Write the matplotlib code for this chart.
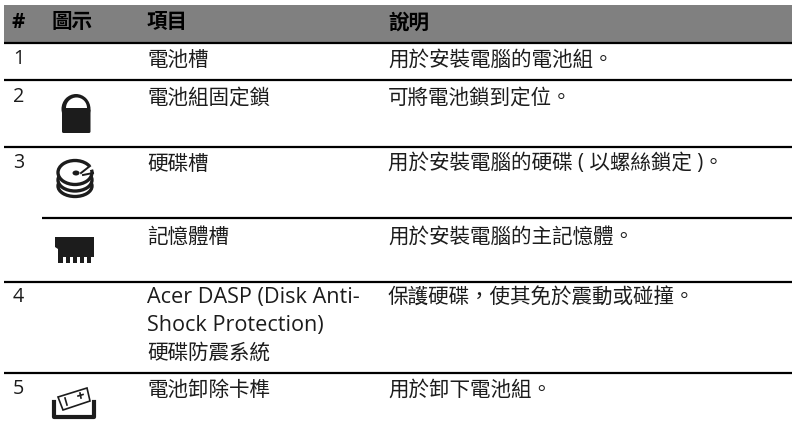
import matplotlib
matplotlib.use("Agg")
import matplotlib.pyplot as plt
from matplotlib.patches import Ellipse, Polygon, Rectangle, Wedge, FancyBboxPatch

header = ["#", "圖示", "項目", "說明"]
row_numbers = ["1", "2", "3", "", "4", "5"]
items = ["電池槽", "電池組固定鎖", "硬碟槽", "記憶體槽",
         "Acer DASP (Disk Anti-\nShock Protection)\n硬碟防震系統", "電池卸除卡榫"]
descriptions = ["用於安裝電腦的電池組。", "可將電池鎖到定位。", "用於安裝電腦的硬碟 ( 以螺絲鎖定 )。",
                "用於安裝電腦的主記憶體。", "保護硬碟\uff0c使其免於震動或碰撞。", "用於卸下電池組。"]

FONT = ["Open Sans", "Noto Sans CJK TC"]
INK = "#1c1c1c"
ROW_TEXT_Y = [60, 98, 164, 237, 298, 390]
NUM_X, ICON_X, ITEM_X, DESC_X = 12, 52, 147, 388

fig = plt.figure(figsize=(7.92, 4.34), dpi=100)
ax = fig.add_axes([0, 0, 1, 1])
ax.set_xlim(0, 792)
ax.set_ylim(434, 0)
ax.axis("off")

# header band and rules
ax.add_patch(Rectangle((4, 5), 788, 37, fc="#808080", ec="none"))
for y, x0 in [(43, 4), (80, 4), (147, 4), (218, 42), (282, 4), (373, 4)]:
    ax.plot([x0, 792], [y, y], color="black", lw=1.6, solid_capstyle="butt")

for x, label in zip([NUM_X, ICON_X, ITEM_X, DESC_X], header):
    ax.text(x, 23, label, family=FONT, fontsize=14.8, weight="bold", color="black",
            va="center", ha="left")

for i in range(len(items)):
    y = ROW_TEXT_Y[i]
    ax.text(13, y - 1, row_numbers[i], family=FONT, fontsize=14.2, color=INK, va="center")
    for j, line in enumerate(items[i].split("\n")):
        latin = line.isascii()
        ax.text(ITEM_X, y + j * 27.5, line, family=FONT, fontsize=15.6 if latin else 14.8,
                color=INK, va="center")
    ax.text(DESC_X, y, descriptions[i], family=FONT, fontsize=14.8, color=INK, va="center")

# lock icon
ax.add_patch(Ellipse((76, 109), 29, 30, fc=INK, ec="none"))
ax.add_patch(FancyBboxPatch((62, 109), 28.5, 24, boxstyle="round,pad=0,rounding_size=1.5", fc=INK, ec="none"))
ax.add_patch(Wedge((76.5, 108), 10.5, 180, 360, fc="white", ec="none"))

# hard disk icon
for cy, h in [(186, 21), (180, 22)]:
    ax.add_patch(Ellipse((75, cy), 34, h, fc="white", ec=INK, lw=2.4))
ax.add_patch(Ellipse((75, 172.5), 34, 24, fc="white", ec=INK, lw=2.4))
ax.add_patch(Ellipse((76, 173), 7, 5, fc=INK, ec="none"))
ax.add_patch(Polygon([(80, 173), (92, 164), (94, 169)], fc="white", ec="none"))
ax.plot([81, 90], [173, 166], color=INK, lw=1.4)
ax.plot([83, 93], [175, 173], color=INK, lw=1.4)

# memory icon
ax.add_patch(Polygon([(55, 237), (94, 237), (94, 263), (58, 263), (58, 249), (55, 247)], fc=INK, ec="none"))
for gx in [63, 70, 77, 84, 91]:
    ax.add_patch(Rectangle((gx, 257), 2.6, 6.5, fc="white", ec="none"))

# battery tray icon
ax.plot([54, 54, 94, 94], [402, 417, 417, 402], color=INK, lw=3, solid_joinstyle="round")
ax.add_patch(Polygon([(58, 397), (87, 388), (90, 401), (63, 410)], fc="white", ec=INK, lw=1.2, zorder=3))
ax.plot([65, 67], [398, 405], color=INK, lw=1.2, zorder=4)
ax.plot([78, 83], [396, 394.5], color=INK, lw=1.2, zorder=4)
ax.plot([80, 81], [393, 398], color=INK, lw=1.2, zorder=4)

fig.savefig("out.png", dpi=100)
